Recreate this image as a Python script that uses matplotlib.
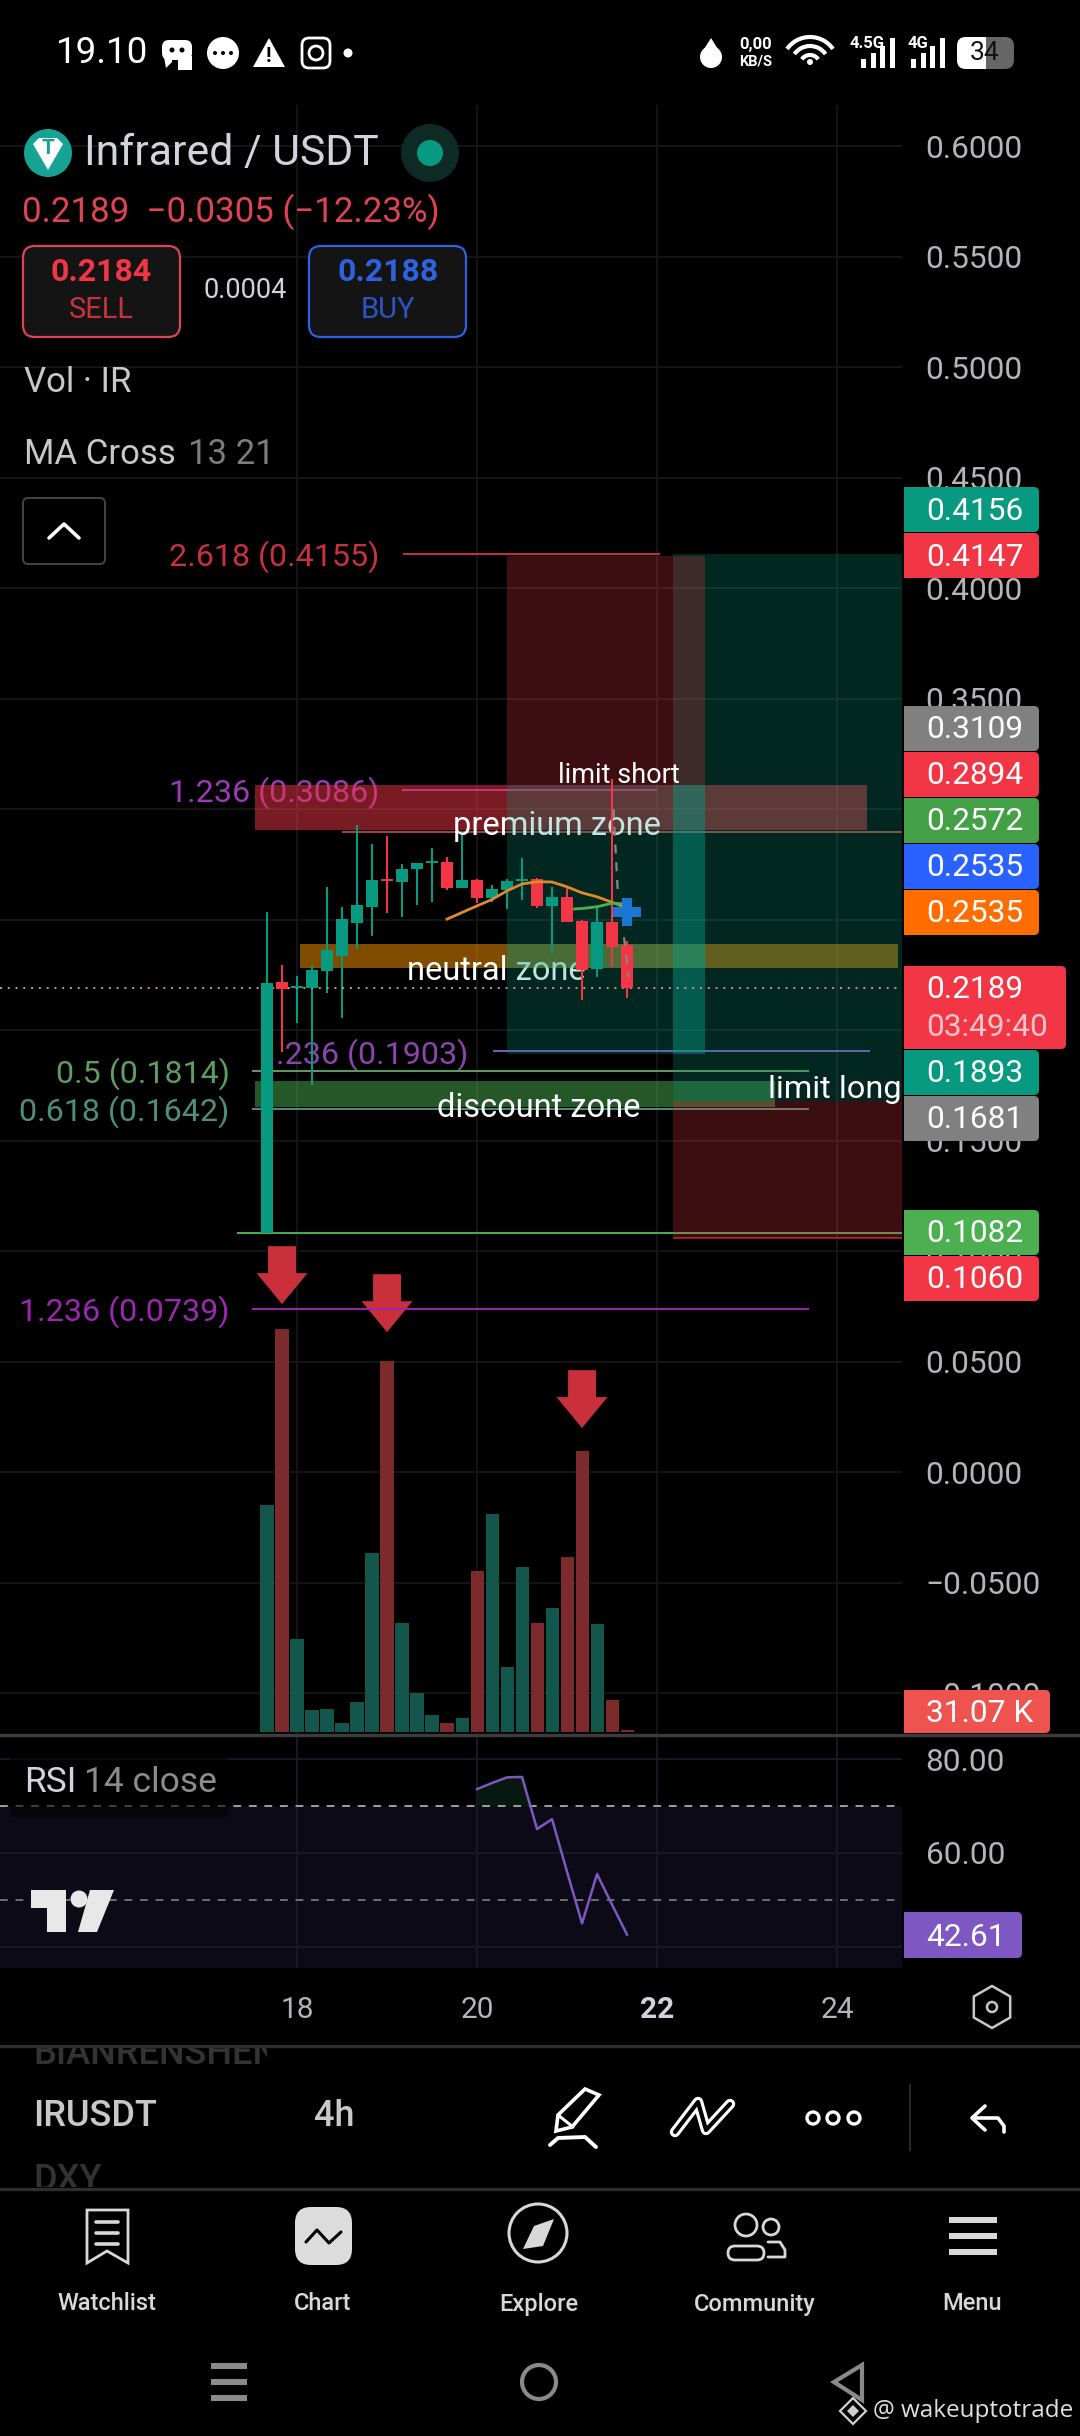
import numpy as np
import matplotlib
matplotlib.use("Agg")
import matplotlib.pyplot as plt
from matplotlib.patches import Rectangle, FancyBboxPatch, Circle, Polygon, RegularPolygon, Arc

plt.rcParams['font.family'] = ['Roboto', 'DejaVu Sans']

# candles, 4h
candle_open = [0.1080, 0.2216, 0.2190, 0.2189, 0.2268, 0.2335, 0.2486, 0.2558, 0.2685, 0.2668, 0.2730, 0.2757, 0.2760,
               0.2643, 0.2679, 0.2596, 0.2633, 0.2676, 0.2682, 0.2561, 0.2603, 0.2495, 0.2278, 0.2489, 0.2385]
candle_close = [0.2211, 0.2186, 0.2199, 0.2271, 0.2362, 0.2502, 0.2566, 0.2679, 0.2673, 0.2731, 0.2754, 0.2763, 0.2643,
                0.2679, 0.2596, 0.2637, 0.2673, 0.2682, 0.2561, 0.2603, 0.2489, 0.2271, 0.2489, 0.2377, 0.2189]
candle_high = [0.2535, 0.2294, 0.2244, 0.2294, 0.2649, 0.2558, 0.2928, 0.2842, 0.2878, 0.2751, 0.2754, 0.2822, 0.2784,
               0.2882, 0.2682, 0.2656, 0.2682, 0.2780, 0.2686, 0.2649, 0.2641, 0.2498, 0.2558, 0.3134, 0.2405]
candle_low = [0.1080, 0.1902, 0.2030, 0.1751, 0.2166, 0.2053, 0.2365, 0.2425, 0.2528, 0.2510, 0.2566, 0.2578, 0.2633,
              0.2643, 0.2573, 0.2581, 0.2546, 0.2588, 0.2553, 0.2347, 0.2489, 0.2136, 0.2238, 0.2287, 0.2143]
volume_k = [4216, 7502, 1724, 403, 422, 174, 564, 3336, 6894, 2034, 732, 310, 174,
            267, 2988, 4061, 1215, 3075, 2021, 2313, 3261, 5220, 2003, 589, 31.07]

ma21_x = [12, 13, 14, 15, 16, 17, 18, 19, 20, 21, 22, 23, 24]
ma21_y = [0.2502, 0.2532, 0.2562, 0.2591, 0.2630, 0.2661, 0.2671, 0.2670, 0.2648, 0.2621, 0.2603, 0.2578, 0.2553]
ma13_x = [20.5, 21, 22, 23, 23.6]
ma13_y = [0.2548, 0.2550, 0.2558, 0.2574, 0.2572]

rsi_x = [14, 15, 16, 17, 18, 19, 20, 21, 22, 23, 24]
rsi_y = [73.6, 74.9, 76.1, 76.2, 65.1, 67.2, 56.0, 45.0, 55.5, 49.0, 42.61]

price_ticks = [0.60, 0.55, 0.50, 0.45, 0.40, 0.35, 0.30, 0.25, 0.20, 0.15, 0.10, 0.05, 0.0, -0.05, -0.10]
date_ticks = [2, 14, 26, 38]
date_labels = ['18', '20', '22', '24']
rsi_ticks = [80, 60, 40]

sell_arrows = [1, 8, 21]
sell_arrow_tips = [0.0760, 0.0633, 0.0199]

tag_text = ['0.4156', '0.4147', '0.3109', '0.2894', '0.2572', '0.2535', '0.2535', '0.1893', '0.1681', '0.1082', '0.1060']
tag_top = [487, 533, 706, 752, 798, 844, 890, 1050, 1096, 1210, 1256]
tag_color = ['#089981', '#f23645', '#808080', '#f23645', '#43a047', '#2962ff', '#ff6d00',
             '#089981', '#808080', '#4caf50', '#f23645']

GREEN, RED = '#089981', '#f23645'
GRID = '#151515'
AXIS_TXT = '#b4b5b8'
TXT_DROP = 0.0013  # labels sit a little under their line, in price units

fig = plt.figure(figsize=(10.8, 24.36), dpi=100, facecolor='black')


def pane(x0, y0, x1, y1, z):
    a = fig.add_axes([x0 / 1080, 1 - y1 / 2436, (x1 - x0) / 1080, (y1 - y0) / 2436], zorder=z)
    a.patch.set_alpha(0)
    for s in a.spines.values():
        s.set_visible(False)
    return a


# main price pane
ax = pane(0, 105, 902, 1735, 1)
ax.set_xlim(-17.8, 42.33)
ax.set_ylim(-0.119, 0.6186)
ax.set_xticks(date_ticks)
ax.set_xticklabels([])
ax.set_yticks(price_ticks)
ax.set_yticklabels([f'{t:.4f}'.replace('-', '\u2212') for t in price_ticks])
ax.yaxis.tick_right()
ax.tick_params(axis='y', length=0, pad=17, labelsize=22.8, labelcolor=AXIS_TXT)
ax.tick_params(axis='x', length=0)
ax.grid(True, color=GRID, lw=1.4)
ax.set_axisbelow(True)


def fib(p, x0, x1, color, label=None, xr=None, lw=1.4, fs=23.2):
    ax.plot([x0, x1], [p, p], color=color, lw=lw, zorder=1.5, solid_capstyle='butt')
    if label:
        ax.text(xr, p - TXT_DROP, label, color=color, fontsize=fs, ha='right', va='center', zorder=1.5)


for i, t in zip(sell_arrows, sell_arrow_tips):
    ax.fill([i - 0.93, i + 0.93, i + 0.93, i + 1.7, i, i - 1.7, i - 0.93],
            [t + 0.0262, t + 0.0262, t + 0.014, t + 0.014, t, t + 0.014, t + 0.014],
            color='#c9303c', lw=0, zorder=1)

fib(0.4155, 9.07, 26.2, '#c8323f', '2.618 (0.4155)', 7.5)
fib(0.3086, 9, 26, '#9c3ab8', '1.236 (0.3086)', 7.5)
fib(0.2894, 5, 42.33, '#a8404a')
fib(0.1903, 15.07, 40.2, '#7e57c2')
ax.text(13.4, 0.1903 - TXT_DROP, '.236 (0.1903)', color='#8e44ad', fontsize=23.2, ha='right', va='center', zorder=1.5)
fib(0.1814, -1, 36.13, '#5e9e62', '0.5 (0.1814)', -2.5)
fib(0.1642, -1, 36.13, '#4d8f7c', '0.618 (0.1642)', -2.5)
fib(0.1082, -2, 42.33, '#4caf50')
fib(0.1060, 27.07, 42.33, '#8a2430')
fib(0.0739, -1, 36.13, '#9c27b0', '1.236 (0.0739)', -2.5)


def box(x0, x1, p0, p1, color, alpha, z):
    ax.add_patch(Rectangle((x0, p0), x1 - x0, p1 - p0, facecolor=color, alpha=alpha, lw=0, zorder=z))


# zones
box(-0.8, 40, 0.2905, 0.3109, RED, 0.5, 2)
box(2.2, 42.07, 0.2280, 0.2389, '#ff9800', 0.5, 2)
box(-0.8, 33.87, 0.1652, 0.1769, '#4caf50', 0.5, 2)
for x, p, s in [(19.33, 0.2937, 'premium zone'), (15.27, 0.2281, 'neutral zone'), (18.13, 0.1661, 'discount zone')]:
    ax.text(x, p - TXT_DROP, s, color='white', fontsize=23.5, ha='center', va='center', zorder=3)

# long and short position boxes
box(27.07, 42.33, 0.1681, 0.4156, GREEN, 0.25, 4)
box(27.07, 42.33, 0.1060, 0.1681, RED, 0.25, 4)
box(16, 29.2, 0.3109, 0.4147, RED, 0.25, 4.1)
box(16, 29.2, 0.1893, 0.3109, GREEN, 0.25, 4.1)
box(16, 29.2, 0.2280, 0.2389, GREEN, 0.25, 4.2)
box(27.07, 29.2, 0.1893, 0.3109, GREEN, 0.3, 4.2)

# candles
idx = np.arange(len(candle_open))
o, c = np.array(candle_open), np.array(candle_close)
cols = [GREEN if b >= a else RED for a, b in zip(o, c)]
ax.vlines(idx, candle_low, candle_high, colors=cols, lw=1.5, zorder=5)
ax.bar(idx, np.abs(c - o), bottom=np.minimum(o, c), width=0.8, color=cols, lw=0, zorder=5.1)
ax.plot(ma21_x, ma21_y, color='#e08a2c', lw=2, zorder=6)
ax.plot(ma13_x, ma13_y, color='#4caf50', lw=2, zorder=6)
ax.plot([23.1, 23.4], [0.3000, 0.2600], color='#888888', lw=1.6, ls=(0, (4, 4)), zorder=6)
ax.plot([23.8, 24.1], [0.2420, 0.2240], color='#888888', lw=1.6, ls=(0, (4, 4)), zorder=6)
ax.scatter([24], [0.2535], marker='P', s=430, color='#1976d2', lw=0, zorder=7)
ax.axhline(0.2189, color='#d98a93', lw=1.4, ls=(0, (1, 3)), zorder=5)
ax.text(23.47, 0.3167 - TXT_DROP, 'limit short', color='white', fontsize=19.5, ha='center', va='center', zorder=8)
ax.text(37.87, 0.1742 - TXT_DROP, 'limit long', color='white', fontsize=23.4, ha='center', va='center', zorder=8)

# volume
vax = pane(0, 1100, 902, 1732, 2)
vax.set_xlim(-17.8, 42.33)
vax.set_ylim(0, 11755)
vax.axis('off')
vax.bar(idx, volume_k, width=0.87, color=['#12564c' if k == GREEN else '#7d2a2d' for k in cols], lw=0)

# rsi
rax = pane(0, 1737, 902, 1968, 1)
rax.set_xlim(-17.8, 42.33)
rax.set_ylim(35.5, 84.7)
rax.set_xticks(date_ticks)
rax.set_xticklabels(date_labels)
rax.set_yticks(rsi_ticks)
rax.set_yticklabels([f'{t:.2f}' for t in rsi_ticks])
rax.yaxis.tick_right()
rax.tick_params(axis='y', length=0, pad=17, labelsize=22.8, labelcolor=AXIS_TXT)
rax.tick_params(axis='x', length=0, pad=20, labelsize=21.5, labelcolor=AXIS_TXT)
rax.get_xticklabels()[2].set_fontweight('bold')
rax.get_xticklabels()[2].set_color('#d1d4dc')
rax.grid(True, color='#1b1824', lw=1.4)
rax.set_axisbelow(True)
rax.axhspan(35.5, 70, facecolor='#0d0a17', lw=0, zorder=0)
rax.axhline(70, color='#a0a0a0', lw=1.4, ls=(0, (4, 4)))
rax.axhline(50, color='#707070', lw=1.4, ls=(0, (4, 4)))
rsi_arr = np.array(rsi_y)
rax.fill_between(rsi_x, 70, rsi_arr, where=rsi_arr >= 70, interpolate=True, color='#07190f', lw=0)
rax.plot(rsi_x, rsi_y, color='#7e57c2', lw=1.8, zorder=4)

# everything else is screen furniture, in pixels
ui = fig.add_axes([0, 0, 1, 1], zorder=5)
ui.set_xlim(0, 1080)
ui.set_ylim(2436, 0)
ui.axis('off')
ui.patch.set_alpha(0)


def txt(x, y, s, color='#d1d4dc', fs=22, ha='left', weight='normal', family=None, **kw):
    return ui.text(x, y + 3, s, color=color, fontsize=fs, ha=ha, va='center', fontweight=weight,
                   family=family or ['Roboto', 'DejaVu Sans'], **kw)


def rbox(x0, y0, x1, y1, r, fc='none', ec='none', lw=1.6, z=2):
    p = FancyBboxPatch((x0, y0), x1 - x0, y1 - y0, boxstyle=f'round,pad=0,rounding_size={r}',
                       facecolor=fc, edgecolor=ec, lw=lw, zorder=z)
    ui.add_patch(p)
    return p


def line(xs, ys, color='white', lw=2.2, z=3):
    ui.plot(xs, ys, color=color, lw=lw, zorder=z, solid_capstyle='round', solid_joinstyle='round')


def tag(y0, y1, color, x1=1039):
    rbox(904, y0, x1, y1, 5, fc=color, z=2)
    ui.add_patch(Rectangle((904, y0), 12, y1 - y0, facecolor=color, lw=0, zorder=2))


for y, s, col in zip(tag_top, tag_text, tag_color):
    tag(y, y + 45, col)
    ui.text(926, y + 24, s, color='white', fontsize=22.8, va='center', zorder=4)
tag(966, 1049, RED, x1=1066)
ui.text(926, 990, '0.2189', color='white', fontsize=22.8, va='center', zorder=4)
ui.text(926, 1028, '03:49:40', color='#f8c4ca', fontsize=22.8, va='center', zorder=4)
tag(1690, 1733, '#ef5350', x1=1050)
ui.text(926, 1713, '31.07 K', color='white', fontsize=22.8, va='center', zorder=4)
tag(1912, 1958, '#7e57c2', x1=1022)
ui.text(926, 1937, '42.61', color='white', fontsize=22.8, va='center', zorder=4)

# separators
for y, col, lw in [(1735, '#3c3c3c', 2.4), (2046, '#2e2e2e', 2.4), (2189, '#2e2e2e', 2.4)]:
    ui.plot([0, 1080], [y, y], color=col, lw=lw, zorder=3)
ui.plot([910, 910], [2085, 2150], color='#2a2a2a', lw=1.4)

# status bar
txt(56, 50, '19.10', 'white', 26.5)
rbox(162, 40, 192, 60, 7, fc='white')
ui.add_patch(Rectangle((178, 56), 14, 14, facecolor='white', lw=0))
ui.add_patch(Polygon([[162, 46], [172, 40], [172, 62], [166, 68]], facecolor='white', lw=0))
ui.add_patch(Circle((172, 50), 2.5, facecolor='black', lw=0, zorder=4))
ui.add_patch(Circle((182, 50), 2.5, facecolor='black', lw=0, zorder=4))
ui.add_patch(Circle((223, 53), 16, facecolor='white', lw=0))
for x in (215, 223, 231):
    ui.add_patch(Circle((x, 53), 2, facecolor='black', lw=0, zorder=4))
ui.add_patch(Polygon([[269, 38], [285, 67], [253, 67]], facecolor='white', lw=0))
ui.text(269, 56, '!', color='black', fontsize=15, ha='center', va='center', fontweight='bold', zorder=4)
rbox(302, 38, 330, 68, 7, ec='white', lw=2)
ui.add_patch(Circle((316, 53), 7, facecolor='none', edgecolor='white', lw=2))
ui.add_patch(Circle((348, 53), 4.5, facecolor='white', lw=0))
ui.add_patch(Circle((711, 57), 11, facecolor='white', lw=0))
ui.add_patch(Polygon([[711, 38], [721, 54], [701, 54]], facecolor='white', lw=0))
txt(756, 41, '0,00', 'white', 12, ha='center', weight='bold')
txt(756, 59, 'KB/S', 'white', 10.5, ha='center', weight='bold')
for r in (28, 19, 10):
    ui.add_patch(Arc((810, 65), 2 * r, 2 * r, theta1=215, theta2=325, color='white', lw=3, zorder=3))
ui.add_patch(Circle((810, 62), 3, facecolor='white', lw=0))
txt(867, 41, '4.5G', 'white', 12, ha='center', weight='bold')
txt(918, 41, '4G', 'white', 12, ha='center', weight='bold')
for x0 in (861, 911):
    for j, h in enumerate((9, 15, 22, 30)):
        ui.add_patch(Rectangle((x0 + j * 9.5, 68 - h), 5, h, facecolor='white', lw=0))
rbox(957, 37, 1014, 69, 9, fc='#666666')
rbox(957, 37, 986, 69, 9, fc='white', z=2.5)
ui.add_patch(Rectangle((975, 37), 11, 32, facecolor='white', lw=0, zorder=2.5))
ui.text(985, 53, '34', color='#111111', fontsize=19, ha='center', va='center', zorder=4)

# symbol header
ui.add_patch(Circle((48, 153), 24, facecolor='#16a394', lw=0))
ui.add_patch(Polygon([[33, 144], [39, 138], [57, 138], [63, 144], [48, 170]], facecolor='white', lw=0, zorder=3))
ui.text(48, 149, 'T', color='#16a394', fontsize=15, ha='center', va='center', fontweight='bold', zorder=4)
txt(84, 150, 'Infrared / USDT', '#d1d4dc', 30.8)
ui.add_patch(Circle((430, 153), 29, facecolor='#0d2a25', lw=0))
ui.add_patch(Circle((430, 153), 13, facecolor=GREEN, lw=0, zorder=3))
txt(22, 209, '0.2189  \u22120.0305 (\u221212.23%)', '#e04452', 25.1)

rbox(23, 246, 180, 337, 12, fc='#141414', ec='#e04452', lw=1.6)
rbox(309, 246, 466, 337, 12, fc='#141414', ec='#2f62e0', lw=1.6)
txt(101, 269, '0.2184', '#f23645', 23, ha='center', weight='bold', zorder=4)
txt(101, 307, 'SELL', '#c8323c', 21, ha='center', zorder=4)
txt(388, 269, '0.2188', '#2f62e0', 23, ha='center', weight='bold', zorder=4)
txt(388, 307, 'BUY', '#2a55c8', 21, ha='center', zorder=4)
txt(245, 288, '0.0004', '#d1d4dc', 19.5, ha='center')
txt(24, 380, 'Vol \u00b7 IR', '#c8c8c8', 25)
txt(24, 451, 'MA Cross', '#c8c8c8', 25)
txt(188, 451, '13 21', '#7d7d7d', 25)
rbox(23, 498, 105, 564, 5, fc='black', ec='#444444', lw=1.4)
line([49, 64, 79], [538, 524, 538], 'white', 2.6)

# rsi legend and logo
ui.add_patch(Rectangle((10, 1745), 218, 72, facecolor='black', alpha=0.6, lw=0))
txt(24, 1779, 'RSI', '#d1d4dc', 25.5, zorder=4)
txt(84, 1779, '14 close', '#8c8c8c', 25.5, zorder=4)
ui.add_patch(Polygon([[31, 1890], [66, 1890], [66, 1932], [47, 1932], [47, 1908], [31, 1908]], facecolor='#e8e8e8', lw=0))
ui.add_patch(Circle((79, 1899), 8.5, facecolor='#e8e8e8', lw=0))
ui.add_patch(Polygon([[90, 1890], [114, 1890], [97, 1932], [78, 1932]], facecolor='#e8e8e8', lw=0))
ui.add_patch(RegularPolygon((992, 2007), 6, radius=21, facecolor='none', edgecolor='#c8c8c8', lw=1.8))
ui.add_patch(Circle((992, 2007), 5, facecolor='none', edgecolor='#c8c8c8', lw=1.8))

# toolbar
clip = Rectangle((0, 2048), 267, 139, transform=ui.transData)
for y, s in [(2052, 'BIANRENSHEN'), (2178, 'DXY')]:
    t = txt(33, y, s, '#333333', 26, weight='medium')
    t.set_clip_path(clip)
    t.set_clip_on(True)
txt(33, 2114, 'IRUSDT', '#c8c8c8', 26, weight='medium')
txt(334, 2114, '4h', '#c8c8c8', 26, ha='center', weight='medium')
ui.add_patch(Polygon([[585, 2089], [599, 2095], [572, 2127], [556, 2131], [558, 2115]], facecolor='none', edgecolor='white', lw=2.6))
line([558, 573], [2115, 2127], 'white', 2.2)
line([550, 558, 585, 596], [2145, 2138, 2137, 2147], 'white', 2.8)
for lw, col in [(7.5, 'white'), (3, 'black')]:
    line([675, 698, 706, 730], [2132, 2102, 2130, 2104], col, lw)
for x in (813, 833, 854):
    ui.add_patch(Circle((x, 2118), 6, facecolor='none', edgecolor='white', lw=2.4))
line([985, 972, 985], [2106, 2118, 2130], 'white', 2.6)
line([974, 998, 1004, 1004], [2118, 2118, 2126, 2132], 'white', 2.6)

# bottom nav
ui.add_patch(Polygon([[87, 2210], [128, 2210], [128, 2263], [107, 2251], [87, 2263]], facecolor='none', edgecolor='#d8d8d8', lw=2))
for y in (2222, 2233, 2244):
    line([96, 118], [y, y], '#d8d8d8', 2.6)
rbox(295, 2207, 352, 2265, 16, fc='#dcdcdc')
line([306, 317, 329, 341], [2242, 2230, 2243, 2232], 'black', 2.2)
ui.add_patch(Circle((538, 2233), 29, facecolor='none', edgecolor='#d8d8d8', lw=2.2))
ui.add_patch(Polygon([[554, 2219], [543, 2246], [523, 2249], [534, 2226]], facecolor='#d8d8d8', lw=0))
ui.add_patch(Circle((746, 2225), 11, facecolor='none', edgecolor='#d8d8d8', lw=2))
ui.add_patch(Circle((771, 2227), 8, facecolor='none', edgecolor='#d8d8d8', lw=2))
rbox(728, 2246, 764, 2260, 7, ec='#d8d8d8', lw=2)
line([768, 780, 785, 785, 768], [2242, 2242, 2250, 2257, 2257], '#d8d8d8', 2)
for y in (2220, 2236, 2252):
    ui.add_patch(Rectangle((949, y - 3), 48, 6, facecolor='#d8d8d8', lw=0))
for x, s in [(107, 'Watchlist'), (323, 'Chart'), (539, 'Explore'), (755, 'Community'), (972, 'Menu')]:
    txt(x, 2301, s, '#d8d8d8', 17, ha='center', weight='medium')

# android nav
for y in (2366, 2382, 2398):
    ui.add_patch(Rectangle((211, y - 3), 36, 6, facecolor='#8a8a8a', lw=0))
ui.add_patch(Circle((539, 2382), 17, facecolor='none', edgecolor='#8a8a8a', lw=3))
ui.add_patch(Polygon([[862, 2365], [834, 2382], [862, 2400]], facecolor='none', edgecolor='#8a8a8a', lw=3))

# watermark
ui.add_patch(Polygon([[853, 2398], [866, 2411], [853, 2424], [840, 2411]], facecolor='black', edgecolor='#cfcfcf', lw=1.6, zorder=4))
ui.add_patch(Polygon([[853, 2405], [859, 2411], [853, 2417], [847, 2411]], facecolor='#cfcfcf', lw=0, zorder=5))
txt(873, 2408, '@ wakeuptotrade', '#e0e0e0', 17.5, family=['Open Sans', 'DejaVu Sans'], zorder=5)

fig.savefig('out.png', dpi=100, facecolor='black')
